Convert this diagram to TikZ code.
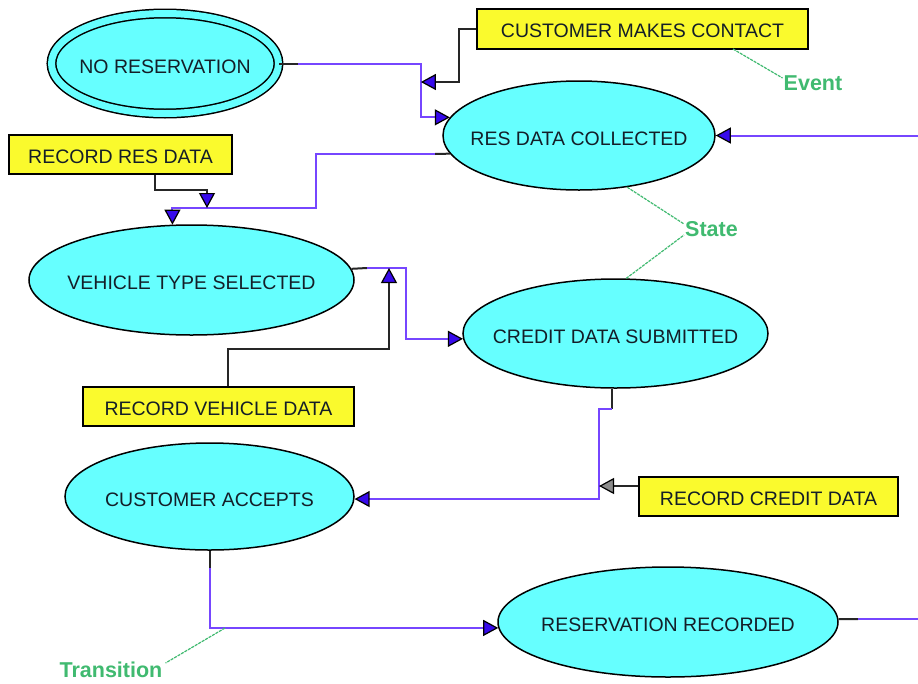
\documentclass[tikz,border=0pt]{standalone}
\usepackage{fontspec}
\setmainfont{Liberation Sans}
\usetikzlibrary{arrows.meta,shapes.geometric,calc}

\definecolor{statefill}{RGB}{102,255,255}
\definecolor{eventfill}{RGB}{250,250,45}
\definecolor{transcol}{RGB}{118,70,255}
\definecolor{tipcol}{RGB}{55,10,235}
\definecolor{notecol}{RGB}{64,186,112}
\definecolor{inkcol}{RGB}{20,30,40}

% zero-width text, so the ellipse size comes only from its minimum size;
% the text is set a little below the centre
\newcommand\zw[1]{\makebox[0pt]{\raisebox{-3pt}[\height][\depth]{#1}}}
\newcommand\lw[1]{\raisebox{-2pt}[\height][\depth]{#1}}

\begin{document}
\begin{tikzpicture}[x=1pt,y=-1pt,
  state/.style={ellipse, draw=black, line width=1.5pt, fill=statefill,
    inner sep=0pt, text=inkcol, font=\fontsize{19.5}{22}\selectfont},
  evbox/.style={rectangle, draw=black, line width=1.5pt, fill=eventfill,
    inner sep=0pt, text=inkcol, font=\fontsize{19.5}{22}\selectfont},
  trans/.style={draw=transcol, line width=2pt},
  evline/.style={draw=black!85, line width=2pt},
  stub/.style={draw=black!85, line width=2pt},
  bluetip/.style={-{Triangle[length=15pt,width=16pt,color=black,fill=tipcol,line width=1.2pt]}},
  greytip/.style={-{Triangle[length=15pt,width=16pt,color=black,fill=black!45,line width=1.2pt]}},
  note/.style={draw=notecol, line width=1.2pt, dash pattern=on 3pt off 1pt},
  lab/.style={text=notecol, inner sep=1pt, font=\bfseries\fontsize{21.5}{24}\selectfont}
]
\useasboundingbox[fill=white] (0,0) rectangle (918,683);

% states
\node[state, double=statefill, double distance=7pt,
      minimum width=227pt, minimum height=100pt] (nores) at (165,63.5) {\zw{NO RESERVATION}};
\node[state, minimum width=272pt, minimum height=109pt] (resdata) at (579,135.5) {\zw{RES DATA COLLECTED}};
\node[state, minimum width=325pt, minimum height=110pt] (vehicle) at (191.5,280) {\zw{VEHICLE TYPE SELECTED}};
\node[state, minimum width=305pt, minimum height=109pt] (credit) at (615.5,333.5) {\zw{CREDIT DATA SUBMITTED}};
\node[state, minimum width=289pt, minimum height=107pt] (accepts) at (209.5,496.5) {\zw{CUSTOMER ACCEPTS}};
\node[state, minimum width=340pt, minimum height=110pt] (recorded) at (668,622) {\zw{RESERVATION RECORDED}};

% events
\node[evbox, minimum width=331pt, minimum height=40pt] (contact) at (642.5,29) {\lw{CUSTOMER MAKES CONTACT}};
\node[evbox, minimum width=223pt, minimum height=39pt] (resrec) at (120.5,154.5) {\lw{RECORD RES DATA}};
\node[evbox, minimum width=271pt, minimum height=39pt] (vehrec) at (218.5,406.5) {\lw{RECORD VEHICLE DATA}};
\node[evbox, minimum width=259pt, minimum height=39pt] (credrec) at (768.5,496.5) {\lw{RECORD CREDIT DATA}};

% free ends at the picture's edge
\coordinate (inR) at (918,135.5);
\coordinate (outR) at (918,619);

% NO RESERVATION -> RES DATA COLLECTED
\draw[stub] (nores.east) -- (298,63.5) coordinate (s1);
\draw[trans,bluetip] (s1) -| ($(resdata.172)+(-29,0)$) coordinate (c1) -- (resdata.172);
\coordinate (e1) at (c1 |- 0,82);
\draw[evline,bluetip] (contact.west) -- ++(-17,0) |- (e1);

% entry from the right
\draw[trans,bluetip] (inR) -- (resdata.east);

% RES DATA COLLECTED -> VEHICLE TYPE SELECTED
\draw[stub] (resdata.188) -- (435,154) coordinate (s3);
\draw[trans,bluetip] (s3) -| (316,208) coordinate (c3) -| (vehicle.109);
\coordinate (e3) at (207,208);
\draw[evline,bluetip] ([xshift=34.5pt]resrec.south) |- (207,190) -- (e3);

% VEHICLE TYPE SELECTED -> CREDIT DATA SUBMITTED
\draw[stub] (vehicle.4) -- (367,268) coordinate (s5);
\draw[trans,bluetip] (s5) -| ($(credit.182)+(-57,0)$) -- (credit.182);
\coordinate (e5) at (389,268);
\draw[evline,bluetip] ([xshift=9.5pt]vehrec.north) -- ++(0,-37) -| (e5);

% CREDIT DATA SUBMITTED -> CUSTOMER ACCEPTS
\draw[stub] ([xshift=-3.5pt]credit.south) -- ++(0,20) coordinate (s7);
\draw[trans,bluetip] (s7) -- ++(-13,0) |- (accepts.-1);
\coordinate (e7) at (599,486);
\draw[evline,greytip] ([yshift=10.5pt]credrec.west) -- (e7);

% CUSTOMER ACCEPTS -> RESERVATION RECORDED
\draw[stub] (accepts.south) -- ++(0,17) coordinate (s9);
\draw[trans,bluetip] (s9) |- (recorded.182);
\coordinate (t9) at (225,628);

% exit to the right
\draw[stub] (recorded.1) -- (858,619) coordinate (s10);
\draw[trans] (s10) -- (outR);

% notation labels
\node[lab] (evlab) at (813,83) {Event};
\node[lab] (stlab) at (711.5,229) {State};
\node[lab] (trlab) at (111,670) {Transition};
\draw[note] (733,49) -- ([yshift=5pt]evlab.west);
\draw[note] (resdata.-47) -- ([yshift=5pt]stlab.west);
\draw[note] (credit.79) -- ([yshift=-6pt]stlab.west);
\draw[note] (t9) -- ([yshift=7pt,xshift=2pt]trlab.east);
\end{tikzpicture}
\end{document}
